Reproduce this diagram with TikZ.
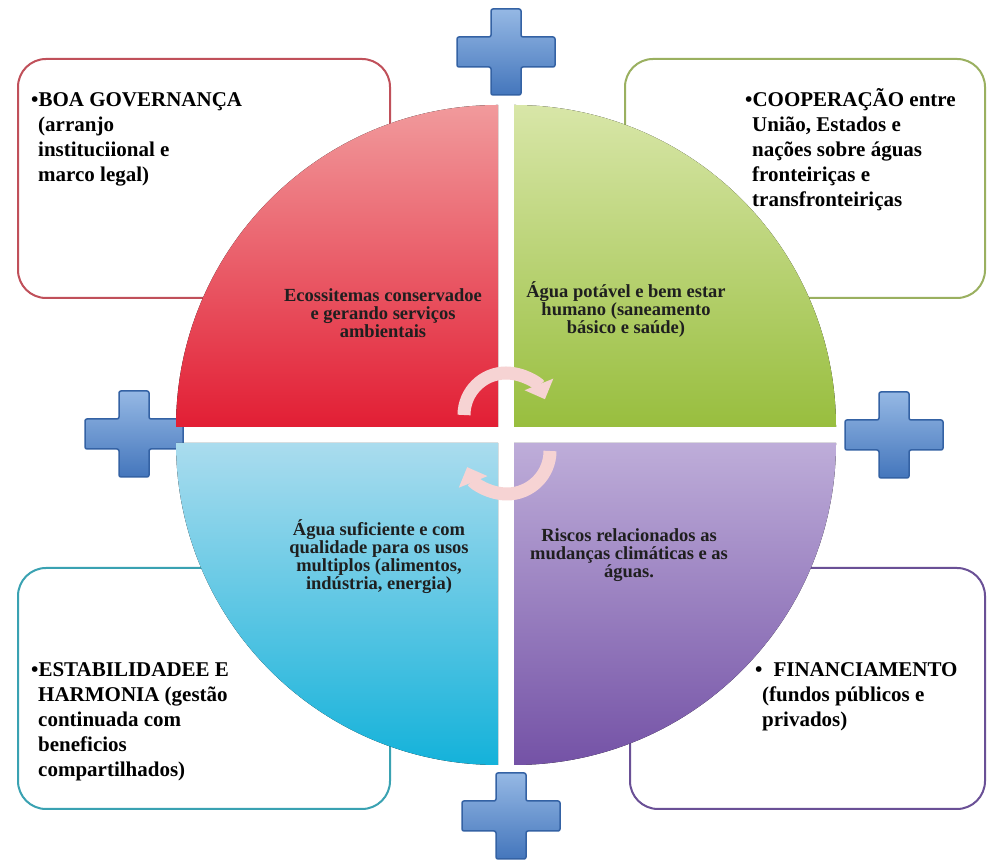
\documentclass[tikz,border=0pt]{standalone}
\usepackage{fontspec}
\setmainfont{Liberation Serif}
\usetikzlibrary{arrows.meta}

\definecolor{bordaVerm}{HTML}{C0505A}
\definecolor{bordaVerde}{HTML}{9AB060}
\definecolor{bordaAzul}{HTML}{3AA2B2}
\definecolor{bordaRoxa}{HTML}{6A5096}
\definecolor{vermClaro}{HTML}{F19A9C}
\definecolor{vermEscuro}{HTML}{E21E34}
\definecolor{verdeClaro}{HTML}{D8E6A8}
\definecolor{verdeEscuro}{HTML}{98BE3E}
\definecolor{azulClaro}{HTML}{AADCEE}
\definecolor{azulEscuro}{HTML}{14B2DA}
\definecolor{roxoClaro}{HTML}{BEADD9}
\definecolor{roxoEscuro}{HTML}{7452A6}
\definecolor{cruzClaro}{HTML}{95B8E4}
\definecolor{cruzEscuro}{HTML}{4476BC}
\definecolor{cruzBorda}{HTML}{3462A4}
\definecolor{setaRosa}{HTML}{F6D3D3}

\newcommand{\recuo}{\hspace*{7pt}}

\tikzset{
  caixa/.style = {line width=2pt, rounded corners=28pt, fill=white},
  textoCaixa/.style = {anchor=base west, inner sep=0pt, text width=260pt, align=flush left,
    font=\fontsize{21}{24.8}\selectfont\bfseries},
  textoQuad/.style = {inner sep=0pt, align=center, text=black!88,
    font=\fontsize{18.5}{18}\selectfont\bfseries},
  seta/.style = {line width=13pt, draw=setaRosa, -{Triangle[length=16pt,width=30pt]}},
  cruz/.pic = {
    \draw[draw=cruzBorda, line width=1.5pt, top color=cruzClaro, bottom color=cruzEscuro,
      rounded corners=2pt]
      (-15,43) -- (15,43) -- (15,15) -- (49,15) -- (49,-15) -- (15,-15) -- (15,-43)
      -- (-15,-43) -- (-15,-15) -- (-49,-15) -- (-49,15) -- (-15,15) -- cycle;
  }
}

\begin{document}
\begin{tikzpicture}[x=1pt, y=1pt]

    \path[fill=white, use as bounding box] (0,0) rectangle (987,861);

    % caixas dos cantos
    \draw[caixa, draw=bordaVerm]  (18,802) rectangle (390,563);
    \draw[caixa, draw=bordaVerde] (625,802) rectangle (985,563);
    \draw[caixa, draw=bordaAzul]  (18,293) rectangle (390,52);
    \draw[caixa, draw=bordaRoxa]  (630,293) rectangle (985,52);

    \pic (cruzTopo) at (506,809) {cruz};
    \pic (cruzEsq) at (134,427) {cruz};
    \pic (cruzDir) at (894,426) {cruz};
    \pic (cruzBaixo) at (511,45) {cruz};

    % quadrantes
    \coordinate (cVerm)  at (498,434);
    \coordinate (cVerde) at (514,434);
    \coordinate (cAzul)  at (498,418);
    \coordinate (cRoxo)  at (514,418);
    \fill[top color=vermClaro, bottom color=vermEscuro]   (cVerm) -- ++(180:322) arc (180:90:322) -- cycle;
    \fill[top color=verdeClaro, bottom color=verdeEscuro] (cVerde) -- ++(90:322) arc (90:0:322) -- cycle;
    \fill[top color=azulClaro, bottom color=azulEscuro]   (cAzul) -- ++(270:322) arc (270:180:322) -- cycle;
    \fill[top color=roxoClaro, bottom color=roxoEscuro]   (cRoxo) -- ++(0:322) arc (0:-90:322) -- cycle;

    \node[textoQuad] (ecoss) at (383,548) {Ecossitemas conservadoe\\e gerando serviços\\ambientais};
    \node[textoQuad] (agua) at (626,551) {Água potável e bem estar\\humano (saneamento\\básico e saúde)};
    \node[textoQuad] (usos) at (379,304) {Água suficiente e com\\qualidade para os usos\\multiplos (alimentos,\\indústria, energia)};
    \node[textoQuad] (riscos) at (629,306) {Riscos relacionados as\\mudanças climáticas e as\\águas.};

    % setas do ciclo
    \coordinate (cSetaA) at (506,446);
    \coordinate (cSetaB) at (507,410);
    \draw[seta] (cSetaA) ++(180:42) arc (180:22:42);
    \draw[seta] (cSetaB) ++(0:43) arc (0:-158:43);

    \node[textoCaixa] (gov) at (31,754) {\textbullet BOA GOVERNANÇA\\\recuo(arranjo\\\recuo instituciional e\\\recuo marco legal)};
    \node[textoCaixa] (coop) at (745,754) {\textbullet COOPERAÇÃO entre\\\recuo União, Estados e\\\recuo nações sobre águas\\\recuo fronteiriças e\\\recuo transfronteiriças};
    \node[textoCaixa] (estab) at (31,184) {\textbullet ESTABILIDADEE E\\\recuo HARMONIA (gestão\\\recuo continuada com\\\recuo beneficios\\\recuo compartilhados)};
    \node[textoCaixa] (financ) at (755,184) {\textbullet\hspace{11pt}FINANCIAMENTO\\\recuo(fundos públicos e\\\recuo privados)};

\end{tikzpicture}
\end{document}
